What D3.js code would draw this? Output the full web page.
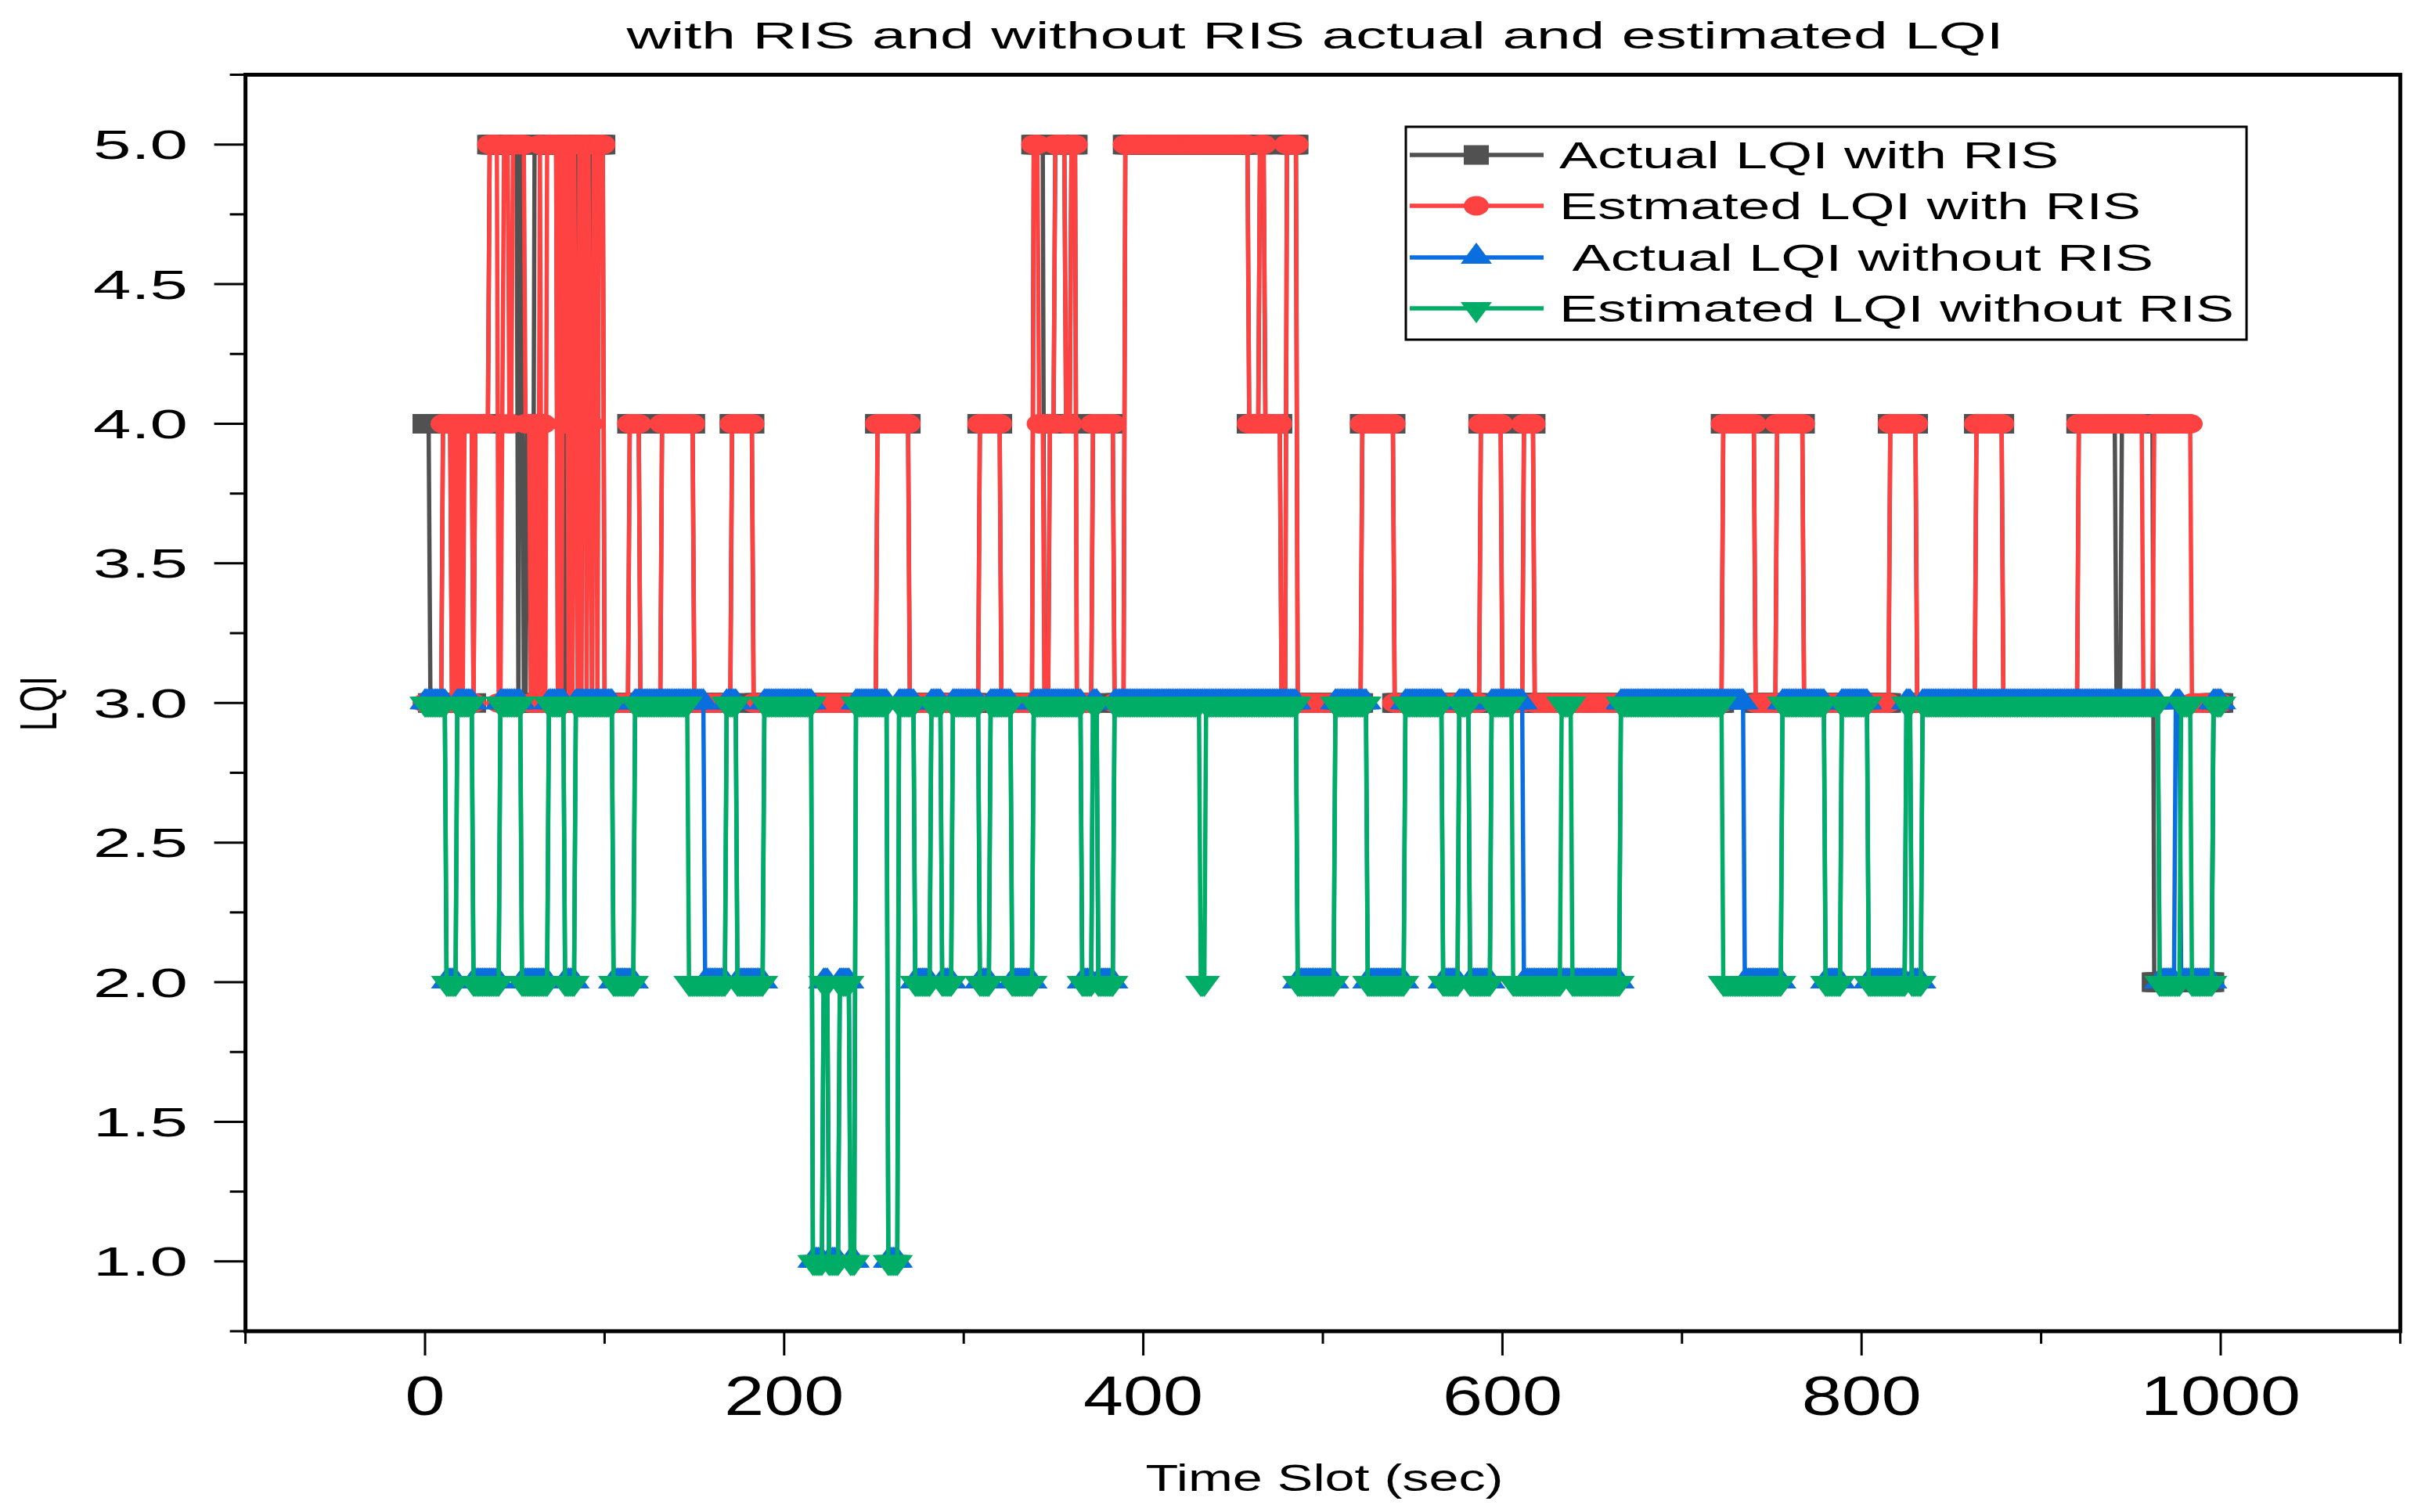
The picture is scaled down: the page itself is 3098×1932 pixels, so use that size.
<!DOCTYPE html>
<html><head><meta charset="utf-8">
<script src="https://cdn.jsdelivr.net/npm/d3@7"></script>
<style>html,body{margin:0;padding:0;background:#fff}text{font-family:"Liberation Sans",Arial,sans-serif;fill:#000}</style>
</head><body>
<svg id="chart" width="3098" height="1932"></svg>
<script>
// ---------------- data ----------------
const chartTitle = "with RIS and without RIS actual and estimated LQI";
const xLabel = "Time Slot (sec)";
const yLabel = "LQI";
const xTicks = [0, 200, 400, 600, 800, 1000];
const xMinorTicks = [-100, 100, 300, 500, 700, 900, 1100];
const yTicks = [1.0, 1.5, 2.0, 2.5, 3.0, 3.5, 4.0, 4.5, 5.0];
const yMinorTicks = [0.75, 1.25, 1.75, 2.25, 2.75, 3.25, 3.75, 4.25, 4.75, 5.25];
const seriesNames = ["Actual LQI with RIS", "Estmated LQI with RIS", " Actual LQI without RIS", "Estimated LQI without RIS"];
const sampleStep = 1;
const lastSlot = 1000;
// values as [time slot where the level starts, LQI level]
const actualWithRIS = [[0,4],[3,3],[10,4],[15,3],[17,4],[19,3],[21,4],[27,3],[28,4],[36,5],[52,3],[53,5],[55,3],[57,4],[59,3],[61,5],[74,3],[75,5],[77,3],[79,5],[81,3],[83,5],[86,3],[88,5],[93,3],[94,5],[100,3],[114,4],[120,3],[132,4],[150,3],[171,4],[183,3],[252,4],[270,3],[309,4],[321,3],[339,5],[345,3],[348,4],[351,5],[357,4],[360,5],[363,3],[372,4],[384,3],[390,5],[459,4],[465,5],[468,4],[477,3],[480,5],[486,3],[522,4],[540,3],[588,4],[600,3],[612,4],[618,3],[723,4],[741,3],[753,4],[768,3],[816,4],[831,3],[864,4],[879,3],[921,4],[942,3],[945,4],[963,2],[996,3]];
const estimatedWithRIS = [[0,3],[10,4],[15,3],[16,4],[17,3],[18,4],[19,3],[20,4],[21,3],[22,4],[27,3],[28,4],[36,5],[41,3],[43,4],[44,5],[47,4],[49,5],[56,4],[59,3],[60,4],[61,3],[62,4],[63,3],[64,5],[65,3],[66,4],[67,3],[68,5],[74,3],[75,5],[76,3],[77,5],[78,4],[79,5],[80,3],[81,5],[82,3],[83,5],[84,4],[85,3],[86,5],[87,3],[88,5],[90,3],[91,5],[92,4],[93,3],[94,5],[96,3],[97,5],[100,3],[114,4],[120,3],[132,4],[150,3],[171,4],[183,3],[252,4],[270,3],[309,4],[321,3],[339,5],[342,4],[345,3],[348,4],[351,5],[357,4],[360,5],[363,3],[372,4],[384,3],[390,5],[459,4],[465,5],[468,4],[477,3],[480,5],[486,3],[522,4],[540,3],[588,4],[600,3],[612,4],[618,3],[723,4],[741,3],[753,4],[768,3],[816,4],[831,3],[864,4],[879,3],[921,4],[957,3],[963,4],[984,3]];
const actualWithoutRIS = [[0,3],[12,2],[18,3],[27,2],[42,3],[54,2],[69,3],[78,2],[84,3],[105,2],[117,3],[156,2],[168,3],[174,2],[189,3],[216,1],[222,2],[225,1],[231,2],[237,1],[240,3],[258,1],[264,3],[273,2],[282,3],[288,2],[294,3],[309,2],[315,3],[327,2],[339,3],[366,2],[372,3],[375,2],[384,3],[486,2],[507,3],[525,2],[546,3],[567,2],[576,3],[582,2],[594,3],[612,2],[666,3],[735,2],[756,3],[780,2],[789,3],[804,2],[825,3],[828,2],[834,3],[966,2],[975,3],[978,2],[996,3]];
const estimatedWithoutRIS = [[0,3],[12,2],[18,3],[27,2],[42,3],[54,2],[69,3],[78,2],[84,3],[105,2],[117,3],[147,2],[168,3],[174,2],[189,3],[216,1],[222,2],[225,1],[231,2],[237,1],[240,3],[258,1],[264,3],[273,2],[282,3],[288,2],[294,3],[309,2],[315,3],[327,2],[339,3],[366,2],[372,3],[375,2],[384,3],[432,2],[435,3],[486,2],[507,3],[525,2],[546,3],[567,2],[576,3],[582,2],[594,3],[606,2],[633,3],[639,2],[666,3],[723,2],[756,3],[780,2],[789,3],[804,2],[825,3],[828,2],[834,3],[966,2],[978,3],[984,2],[996,3]];
const seriesColors = ["#515151", "#fe4141", "#0a6edf", "#00ad66"];
const seriesMarkers = ["square", "circle", "triangleUp", "triangleDown"];

// ---------------- layout ----------------
const svg = d3.select("#chart");
const x = d3.scaleLinear().domain([-100, 1100]).range([313.6, 3066.4]);
const y = d3.scaleLinear().domain([0.75, 5.25]).range([1701, 95.5]);

function expand(changes) {
  const out = [];
  let idx = 0;
  for (let t = 0; t <= lastSlot; t += sampleStep) {
    while (idx + 1 < changes.length && changes[idx + 1][0] <= t) idx++;
    out.push({t: t, v: changes[idx][1]});
  }
  return out;
}
const seriesData = [actualWithRIS, estimatedWithRIS, actualWithoutRIS, estimatedWithoutRIS].map(expand);

function markerPath(kind) {
  if (kind === "square") return "M-16,-12.5H16V12.5H-16Z";
  if (kind === "circle") return "M-16,0A16,12.5 0 1,0 16,0A16,12.5 0 1,0 -16,0Z";
  if (kind === "triangleUp") return "M0,-19L20,8L-20,8Z";
  return "M-20,-8L20,-8L0,19Z";
}

// ---------------- series ----------------
const line = d3.line().x(d => x(d.t)).y(d => y(d.v));
const plot = svg.append("g");
seriesData.forEach((data, i) => {
  const g = plot.append("g");
  g.append("path").datum(data).attr("d", line)
    .attr("fill", "none").attr("stroke", seriesColors[i])
    .attr("stroke-width", 5.5).attr("stroke-linejoin", "bevel");
  g.selectAll("path.m").data(data).join("path").attr("class", "m")
    .attr("d", markerPath(seriesMarkers[i]))
    .attr("transform", d => `translate(${x(d.t)},${y(d.v)})`)
    .attr("fill", seriesColors[i]);
});

// ---------------- axes / frame ----------------
const fr = svg.append("g");
const [x0, x1] = x.range();
const [yb, yt] = y.range();
fr.append("rect").attr("x", x0).attr("y", yt).attr("width", x1 - x0).attr("height", yb - yt)
  .attr("fill", "none").attr("stroke", "#000").attr("stroke-width", 5);

// y ticks
fr.selectAll("line.ymaj").data(yTicks).join("line").attr("class", "ymaj")
  .attr("x1", x0 - 40).attr("x2", x0).attr("y1", d => y(d)).attr("y2", d => y(d))
  .attr("stroke", "#000").attr("stroke-width", 3);
fr.selectAll("line.ymin").data(yMinorTicks).join("line").attr("class", "ymin")
  .attr("x1", x0 - 20).attr("x2", x0).attr("y1", d => y(d)).attr("y2", d => y(d))
  .attr("stroke", "#000").attr("stroke-width", 3);
fr.selectAll("text.yl").data(yTicks).join("text").attr("class", "yl")
  .attr("x", 240).attr("y", d => y(d) + 18.5)
  .attr("text-anchor", "end").attr("font-size", 52)
  .attr("textLength", 121).attr("lengthAdjust", "spacingAndGlyphs")
  .text(d => d3.format(".1f")(d));

// x ticks
fr.selectAll("line.xmaj").data(xTicks).join("line").attr("class", "xmaj")
  .attr("x1", d => x(d)).attr("x2", d => x(d)).attr("y1", yb).attr("y2", yb + 31)
  .attr("stroke", "#000").attr("stroke-width", 3);
fr.selectAll("line.xmin").data(xMinorTicks).join("line").attr("class", "xmin")
  .attr("x1", d => x(d)).attr("x2", d => x(d)).attr("y1", yb).attr("y2", yb + 16)
  .attr("stroke", "#000").attr("stroke-width", 3);
fr.selectAll("text.xl").data(xTicks).join("text").attr("class", "xl")
  .attr("x", d => x(d)).attr("y", 1808)
  .attr("text-anchor", "middle").attr("font-size", 70)
  .attr("textLength", d => 51 * String(d).length).attr("lengthAdjust", "spacingAndGlyphs")
  .text(d => String(d));

// titles
svg.append("text").attr("x", 1680).attr("y", 62).attr("text-anchor", "middle")
  .attr("font-size", 49).attr("textLength", 1759).attr("lengthAdjust", "spacingAndGlyphs")
  .text(chartTitle);
svg.append("text").attr("x", 1692).attr("y", 1905).attr("text-anchor", "middle")
  .attr("font-size", 49).attr("textLength", 457).attr("lengthAdjust", "spacingAndGlyphs")
  .text(xLabel);
svg.append("text").attr("transform", "translate(72,899) scale(1.4,1) rotate(-90)")
  .attr("text-anchor", "middle").attr("font-size", 48)
  .attr("textLength", 70).attr("lengthAdjust", "spacingAndGlyphs")
  .text(yLabel);

// ---------------- legend ----------------
const lg = svg.append("g");
lg.append("rect").attr("x", 1796).attr("y", 162).attr("width", 1074).attr("height", 272)
  .attr("fill", "#fff").attr("stroke", "#000").attr("stroke-width", 3);
const legendRows = [198, 263, 329, 394];
const legendLengths = [638, 743, 759, 862];
seriesNames.forEach((name, i) => {
  const cy = legendRows[i];
  lg.append("line").attr("x1", 1801).attr("x2", 1972).attr("y1", cy).attr("y2", cy)
    .attr("stroke", seriesColors[i]).attr("stroke-width", 5.5);
  lg.append("path").attr("d", markerPath(seriesMarkers[i]))
    .attr("transform", `translate(1886,${cy})`).attr("fill", seriesColors[i]);
  lg.append("text").attr("x", 1992).attr("y", cy + 17).attr("font-size", 49)
    .style("white-space", "pre")
    .attr("textLength", legendLengths[i]).attr("lengthAdjust", "spacingAndGlyphs")
    .text(name);
});
</script>
</body></html>
